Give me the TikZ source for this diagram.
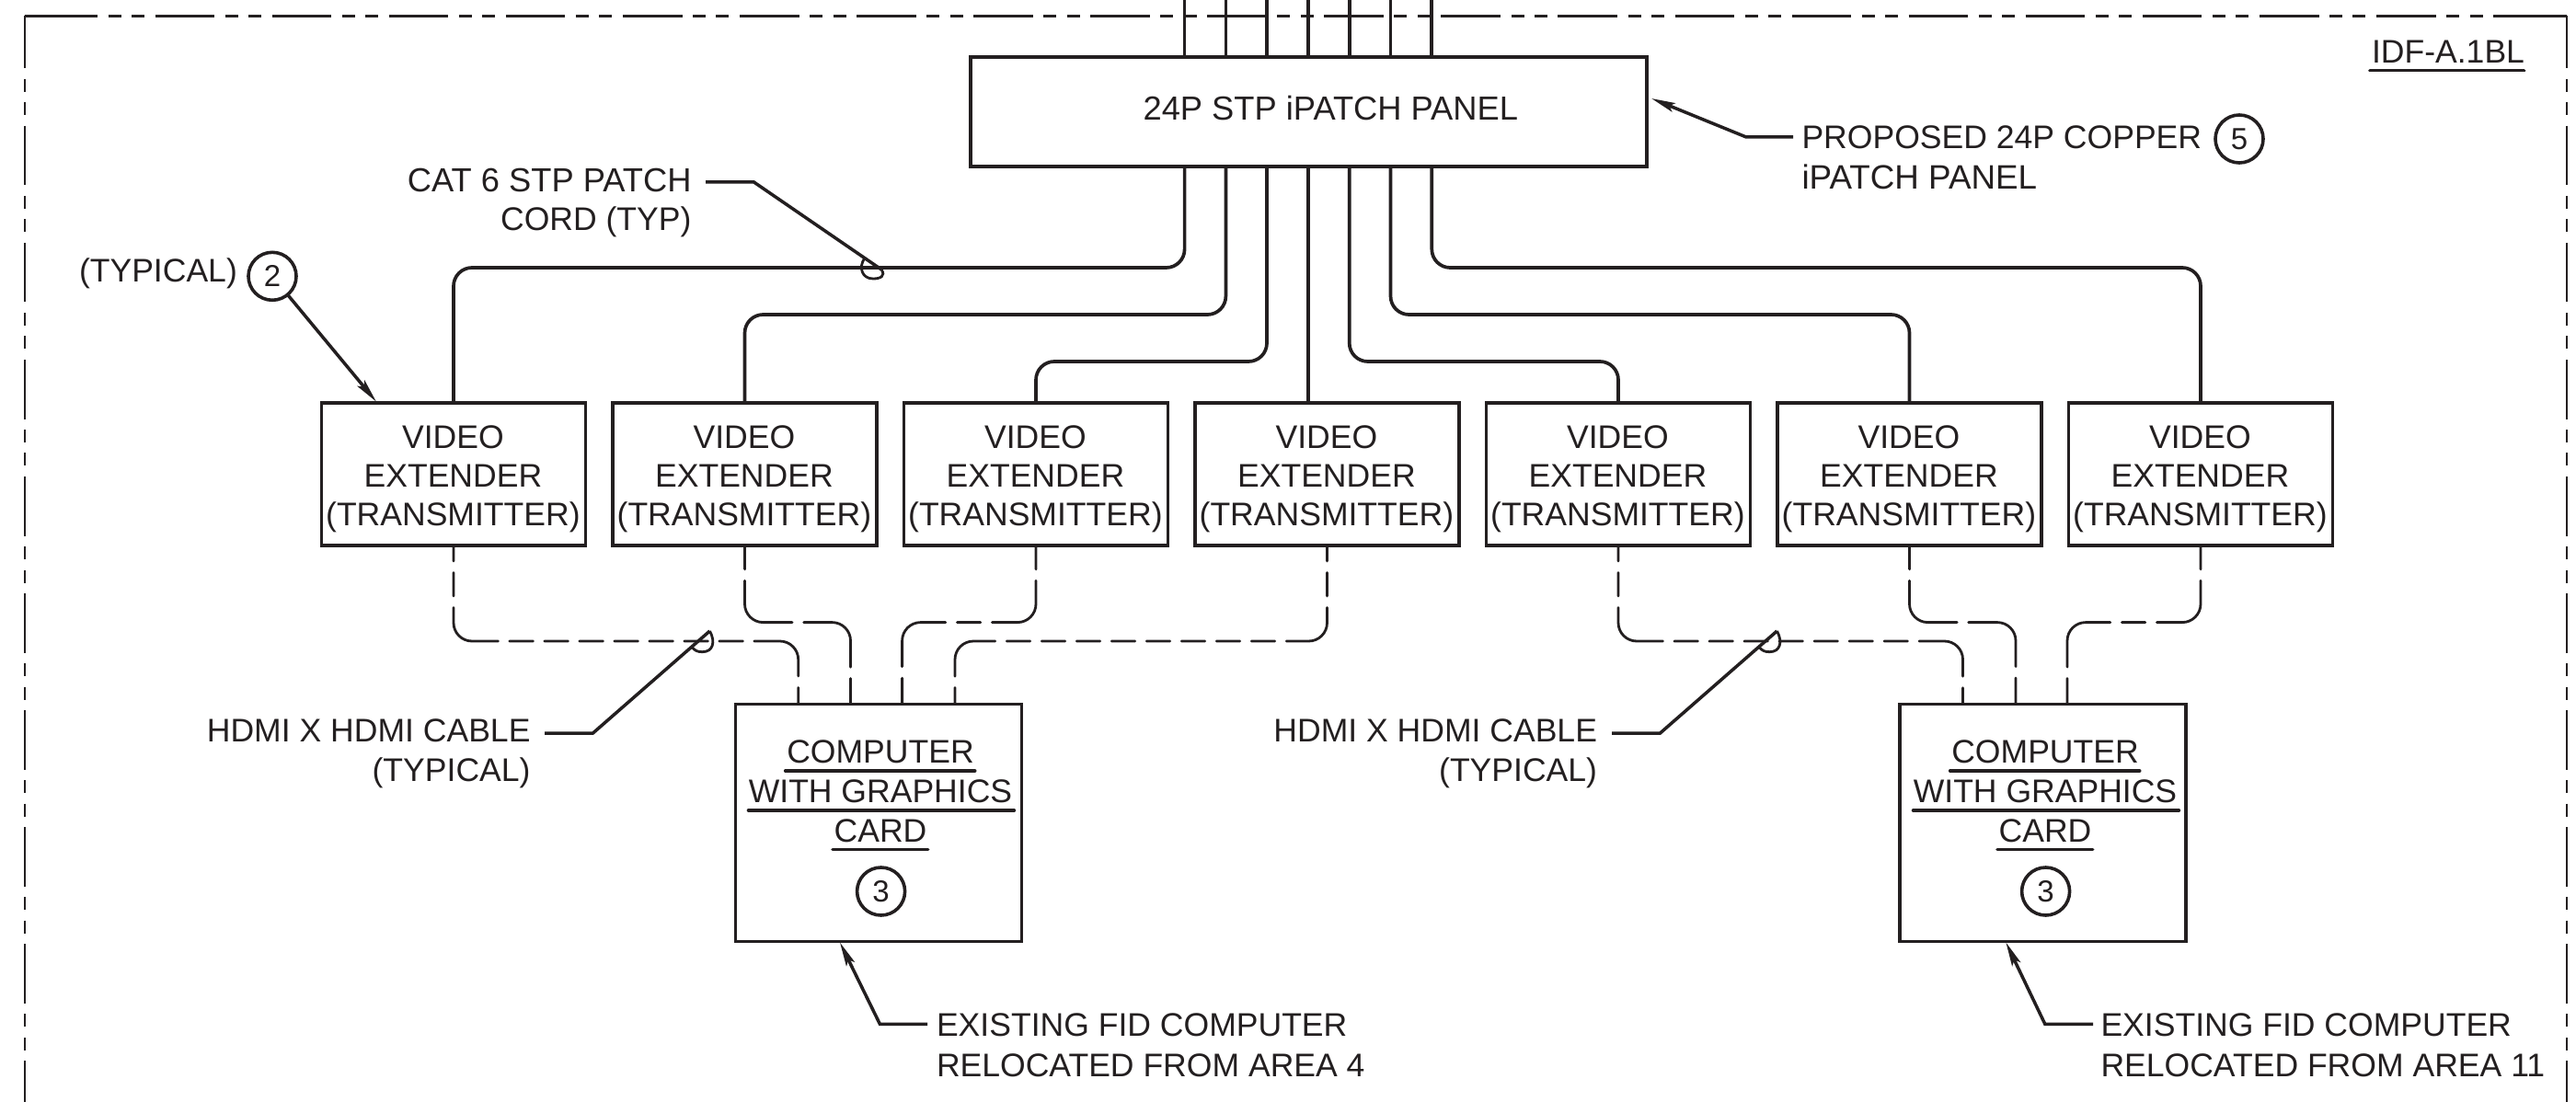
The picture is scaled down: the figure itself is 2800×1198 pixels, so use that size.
\documentclass[tikz,border=0pt]{standalone}
\usepackage{fontspec}
\setmainfont{Liberation Sans}
\usetikzlibrary{arrows.meta}
\definecolor{ink}{HTML}{231F20}
\tikzset{
  x=1pt,y=-1pt,
  every node/.style={inner sep=0pt,outer sep=0pt,text=ink},
  base font/.style={font=\fontsize{35.55}{43}\selectfont},
  wide font/.style={font=\fontsize{36.3}{43}\selectfont},
  txtc/.style={base font,anchor=base},
  txte/.style={base font,anchor=base east},
  txtw/.style={base font,anchor=base west},
  panelbox/.style={draw=ink,line width=4pt,minimum width=735.5pt,minimum height=119pt},
  vidbox/.style={draw=ink,line width=3.8pt,minimum width=287pt,minimum height=155pt},
  compbox/.style={draw=ink,line width=3.1pt,minimum width=311pt,minimum height=257.6pt},
  tag/.style={draw=ink,line width=3.6pt,circle,minimum size=52pt,font=\fontsize{33}{33}\selectfont},
  wire/.style={draw=ink,line width=3.7pt},
  cable/.style={wire,rounded corners=20pt},
  hdmi/.style={draw=ink,line width=2.8pt,line cap=round,rounded corners=20pt},
  hdmiA/.style={hdmi,dash pattern=on 16.75pt off 12.5pt on 25.5pt off 12.5pt on 76.2pt off 12.5pt on 25.5pt off 12.5pt on 25.5pt off 12.5pt on 25.5pt off 12.5pt on 25.5pt off 12.5pt on 25.5pt off 12.5pt on 25.5pt off 12.5pt on 25.5pt off 12.5pt on 77.2pt off 12.5pt on 19pt off 40pt},
  hdmiB/.style={hdmi,dash pattern=on 25.55pt off 12.5pt on 88.3pt off 12.5pt on 90.7pt off 12.5pt on 29.2pt off 40pt},
  hdmiC/.style={hdmi,dash pattern=on 25.55pt off 12.5pt on 84.3pt off 12.5pt on 25.5pt off 12.5pt on 86.7pt off 12.5pt on 29.2pt off 40pt},
  hdmiD/.style={hdmi,dash pattern=on 16.75pt off 12.5pt on 25.5pt off 12.5pt on 72.15pt off 12.5pt on 25.5pt off 12.5pt on 25.5pt off 12.5pt on 25.5pt off 12.5pt on 25.5pt off 12.5pt on 25.5pt off 12.5pt on 25.5pt off 12.5pt on 25.5pt off 12.5pt on 25.5pt off 12.5pt on 73.15pt off 12.5pt on 19pt off 40pt},
  leader/.style={draw=ink,line width=3.5pt},
  pointer/.style={leader,-{Stealth[length=26pt,width=10pt,inset=5pt]}},
  border/.style={draw=ink,line width=2.7pt,dash pattern=on 64.7pt off 11.45pt on 14pt off 11.45pt on 14pt off 11.47pt},
  ulin/.style={draw=ink,line width=3.6pt,line cap=round},
}
\begin{document}
\begin{tikzpicture}
\useasboundingbox (0,0) rectangle (2800,1198);
\fill[white] (0,0) rectangle (2800,1198);
% dash-dot enclosure
\coordinate (tl) at (27,17.5);
\coordinate (tr) at (2790,17.5);
\coordinate (tla) at (41.5,17.5);
\coordinate (tra) at (2774.7,17.5);
\coordinate (bl) at (27,1198);
\coordinate (br) at (2790,1198);
\draw[border] (tla) -- (tra);
\draw[draw=ink,line width=2.7pt,line join=miter] (tla) -- (tl);
\draw[draw=ink,line width=2.7pt] (tra) -- (tr);
\draw[border,dash phase=7.87pt] (tl) -- (bl);
\draw[border,dash phase=7.87pt] (tr) -- (br);
% panel
\node[panelbox] (panel) at (1422.25,121.2) {};
\node[txtc,wide font] (paneltext) at (1446.3,131) {24P STP iPATCH PANEL};
% extender boxes
\foreach \i/\x in {1/493,2/809.5,3/1126,4/1442.5,5/1759,6/2075.5,7/2392}{
  \node[vidbox] (v\i) at (\x,515.8) {};
  \node[txtc] (v\i a) at (\x-.6,487.3) {VIDEO};
  \node[txtc] (v\i b) at (\x-.6,529.3) {EXTENDER};
  \node[txtc] (v\i c) at (\x-.6,571.7) {(TRANSMITTER)};
}
% patch cords
\foreach \i/\px/\ly in {1/1287.6/291,2/1332.4/342,3/1377/393,5/1466.7/393,6/1511.5/342,7/1556.3/291}{
  \coordinate (pu\i) at (\px,0);
  \coordinate (pn\i) at (\px,61.7);
  \coordinate (ps\i) at (\px,180.7);
  \coordinate (pk\i) at (\px,\ly);
  \draw[wire] (pu\i) -- (pn\i);
  \draw[cable] (ps\i) -- (pk\i) -- (pk\i -| v\i.north) -- (v\i.north);
}
\coordinate (pu4) at (1422,0);
\coordinate (pn4) at (1422,61.7);
\coordinate (ps4) at (1422,180.7);
\draw[wire] (pu4) -- (pn4);
\draw[wire] (ps4) -- (ps4 |- v4.north);
% computers
\foreach \n/\x/\tx in {1/954.75/957,2/2220.5/2223}{
  \node[compbox] (c\n) at (\x,894.3) {};
  \node[txtc] (c\n a) at (\tx,829) {COMPUTER};
  \node[txtc] (c\n b) at (\tx,872.5) {WITH GRAPHICS};
  \node[txtc] (c\n c) at (\tx,915.4) {CARD};
  \node[tag] (c\n t) at (\tx+.6,969) {3};
}
\draw[ulin] (853.7,838) -- (1059.7,838);
\draw[ulin] (813.5,881) -- (1102.4,881);
\draw[ulin] (905,923.3) -- (1008.7,923.3);
\draw[ulin] (2119.7,838) -- (2325.7,838);
\draw[ulin] (2079.5,881) -- (2368.4,881);
\draw[ulin] (2171,923.3) -- (2274.7,923.3);
% HDMI cables
\foreach \i/\ly/\cx/\kind in {1/697/867.7/hdmiA,2/676.6/924.5/hdmiB,3/676.6/980.6/hdmiC,4/697/1038/hdmiD,5/697/2133.5/hdmiA,6/676.6/2191/hdmiB,7/676.6/2247/hdmiC}{
  \coordinate (ck\i) at (\cx,\ly);
  \coordinate (ce\i) at (\cx,765);
  \draw[\kind] (v\i.south) -- (v\i.south |- ck\i) -- (ck\i) -- (ce\i);
}
% callouts
\node[txte,wide font] (cat1) at (751.5,208.5) {CAT 6 STP PATCH};
\node[txte] (cat2) at (751.5,251) {CORD (TYP)};
\coordinate (catL) at (767,198);
\coordinate (catK) at (819.5,198);
\coordinate (catT) at (958,293);
\draw[leader] (catL) -- (catK) -- (catT);
\draw[draw=ink,line width=2.8pt] (catT) .. controls (963,300) and (957,303) .. (949,303) .. controls (937,303) and (933,291) .. (939.5,281);
\node[txtw] (typ) at (86,306.7) {(TYPICAL)};
\node[tag] (t2) at (296,300.3) {2};
\coordinate (a2) at (409,436.7);
\draw[pointer] (t2) -- (a2);
\node[txtw] (prop1) at (1958.5,161.7) {PROPOSED 24P COPPER};
\node[txtw,font=\fontsize{36.8}{43}\selectfont] (prop2) at (1958.5,205.5) {iPATCH PANEL};
\node[tag] (t5) at (2434,151) {5};
\coordinate (propL) at (1949,149);
\coordinate (propK) at (1898,149);
\coordinate (propT) at (1795,107);
\draw[pointer] (propL) -- (propK) -- (propT);
\node[txtw] (idf) at (2578,68.3) {IDF-A.1BL};
\draw[ulin] (2576,76.7) -- (2743.5,76.7);
\foreach \n/\dx/\tdx in {1/0/1.5,2/1160/1161}{
  \node[txte] (h\n a) at (575+\tdx,806.6) {HDMI X HDMI CABLE};
  \node[txte] (h\n b) at (575+\tdx,849.6) {(TYPICAL)};
  \coordinate (h\n L) at (592+\dx,797);
  \coordinate (h\n K) at (644.5+\dx,797);
  \coordinate (h\n T) at (771.5+\dx,686);
  \coordinate (h\n P) at (763.3+\dx,708.7);
  \coordinate (h\n Q) at (752.7+\dx,704);
  \draw[leader] (h\n L) -- (h\n K) -- (h\n T);
  \draw[draw=ink,line width=2.8pt] (h\n T) .. controls (778+\dx,698) and (775+\dx,708.7) .. (h\n P) .. controls (758+\dx,708.7) and (755+\dx,707) .. (h\n Q);
}
\node[txtw] (e1a) at (1018,1126) {EXISTING FID COMPUTER};
\node[txtw] (e1b) at (1018,1170) {RELOCATED FROM AREA 4};
\coordinate (e1L) at (1008,1113.3);
\coordinate (e1K) at (956.4,1113.3);
\coordinate (e1T) at (913,1024.6);
\draw[pointer] (e1L) -- (e1K) -- (e1T);
\node[txtw] (e2a) at (2283.5,1126) {EXISTING FID COMPUTER};
\node[txtw] (e2b) at (2283.5,1170) {RELOCATED FROM AREA 11};
\coordinate (e2L) at (2275,1113.3);
\coordinate (e2K) at (2222.8,1113.3);
\coordinate (e2T) at (2180.4,1024.6);
\draw[pointer] (e2L) -- (e2K) -- (e2T);
\end{tikzpicture}
\end{document}
